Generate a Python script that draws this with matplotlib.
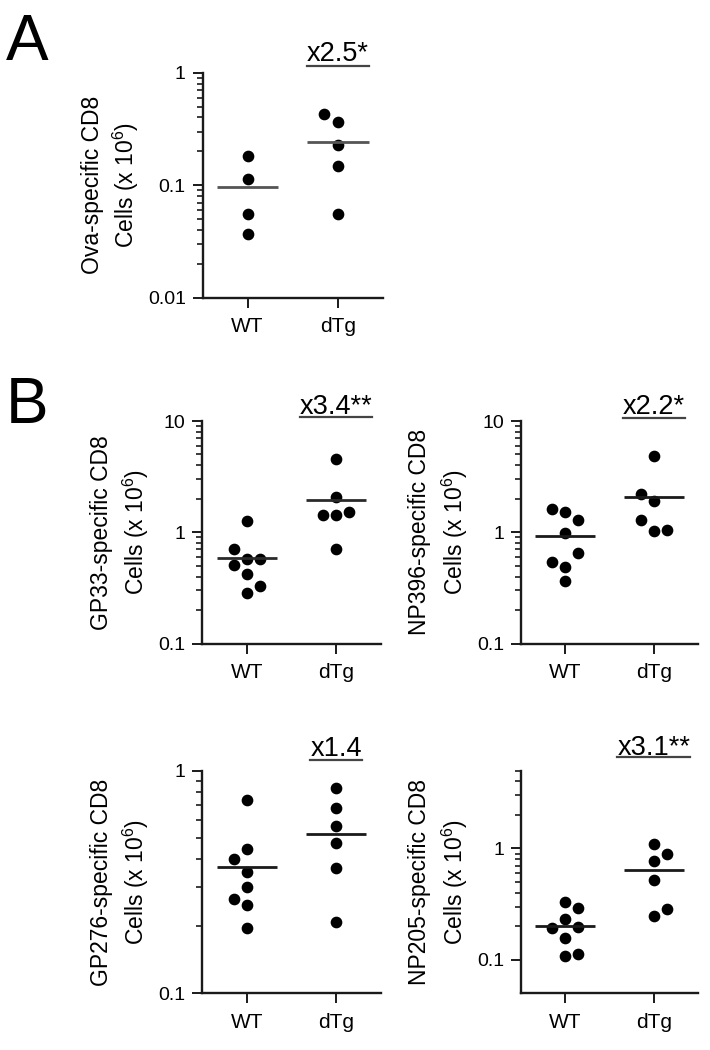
import numpy as np
import matplotlib
matplotlib.use("Agg")
import matplotlib.pyplot as plt
from matplotlib.lines import Line2D

plt.rcParams['font.family'] = ['Liberation Sans', 'DejaVu Sans']
plt.rcParams['mathtext.fontset'] = 'custom'
plt.rcParams['mathtext.rm'] = 'Liberation Sans'
plt.rcParams['mathtext.it'] = 'Liberation Sans:italic'
plt.rcParams['mathtext.default'] = 'regular'

# ---------------- data ----------------
groups = ["WT", "dTg"]

ova_wt = [0.181, 0.114, 0.056, 0.037]
ova_dtg = [0.431, 0.361, 0.226, 0.147, 0.056]

gp33_wt = [1.27, 0.70, 0.577, 0.577, 0.503, 0.418, 0.328, 0.286]
gp33_dtg = [4.57, 2.06, 1.44, 1.44, 1.52, 0.714]

np396_wt = [1.61, 1.53, 1.30, 0.98, 0.649, 0.538, 0.492, 0.362]
np396_dtg = [4.87, 2.23, 1.90, 1.28, 1.02, 1.05]

gp276_wt = [0.738, 0.443, 0.400, 0.352, 0.301, 0.264, 0.250, 0.196]
gp276_dtg = [0.833, 0.677, 0.564, 0.472, 0.364, 0.210]

np205_wt = [0.331, 0.290, 0.234, 0.194, 0.197, 0.156, 0.109, 0.113]
np205_dtg = [1.10, 0.895, 0.769, 0.522, 0.286, 0.246]

fold_labels = ["x2.5*", "x3.4**", "x2.2*", "x1.4", "x3.1**"]
ylabel_top = ["Ova-specific CD8", "GP33-specific CD8", "NP396-specific CD8",
              "GP276-specific CD8", "NP205-specific CD8"]
ylabel_bottom = "Cells (x 10$^6$)"

ylims = [(0.01, 1), (0.1, 10), (0.1, 10), (0.1, 1), (0.05, 5)]
major_ticks = [[0.01, 0.1, 1], [0.1, 1, 10], [0.1, 1, 10], [0.1, 1], [0.1, 1]]
major_labels = [["0.01", "0.1", "1"], ["0.1", "1", "10"], ["0.1", "1", "10"],
                ["0.1", "1"], ["0.1", "1"]]

# column slots of the scatter (-1 left, 0 centre, +1 right)
ova_wt_slot = [0, 0, 0, 0]
ova_dtg_slot = [-1, 0, 0, 0, 0]
gp33_wt_slot = [0, -1, 0, 1, -1, 0, 1, 0]
gp33_dtg_slot = [0, 0, -1, 0, 1, 0]
np396_wt_slot = [-1, 0, 1, 0, 1, -1, 0, 0]
np396_dtg_slot = [0, -1, 0, -1, 0, 1]
gp276_wt_slot = [0, 0, -1, 0, 0, -1, 0, 0]
gp276_dtg_slot = [0, 0, 0, 0, 0, 0]
np205_wt_slot = [0, 1, 0, -1, 1, 0, 0, 1]
np205_dtg_slot = [0, 1, 0, 0, 1, 0]

# ---------------- layout ----------------
W, H = 710, 1050
fig = plt.figure(figsize=(W / 100, H / 100), dpi=100)

# axes boxes in pixels: left, top, right, bottom
boxes = [(202.5, 72.7, 383.0, 297.7),
         (202.3, 421.0, 380.7, 643.5),
         (520.7, 421.0, 698.3, 643.5),
         (202.3, 770.7, 380.7, 993.3),
         (520.7, 770.7, 698.3, 993.3)]
label_off = [(-110, -77), (-101, -66.5), (-101, -66), (-101, -66.5), (-101, -66)]
text_base = [12, 7, 6.5, 14.7, 15.7]
uline_off = [6.7, 4.3, 3.3, 11.2, 13.4]
mean_colors = ['#555555', '#2a2a2a', '#1a1a1a', '#1a1a1a', '#1a1a1a']

panels = [
    (ova_wt, ova_dtg, ova_wt_slot, ova_dtg_slot),
    (gp33_wt, gp33_dtg, gp33_wt_slot, gp33_dtg_slot),
    (np396_wt, np396_dtg, np396_wt_slot, np396_dtg_slot),
    (gp276_wt, gp276_dtg, gp276_wt_slot, gp276_dtg_slot),
    (np205_wt, np205_dtg, np205_wt_slot, np205_dtg_slot),
]

slot_w = 0.15
half_mean = 0.34
axes_list = []
texts = []
for i, (wt, dtg, swt, sdtg) in enumerate(panels):
    l, t, r, b = boxes[i]
    ax = fig.add_axes([l / W, 1 - b / H, (r - l) / W, (b - t) / H])
    axes_list.append(ax)
    ax.set_yscale('log')
    ax.set_ylim(*ylims[i])
    ax.set_xlim(-0.5, 1.5)
    for xpos, vals, slots in [(0, wt, swt), (1, dtg, sdtg)]:
        vals = np.asarray(vals)
        xs = xpos + np.asarray(slots) * slot_w
        ax.plot(xs, vals, 'o', ms=7.4, color='black', mec='black', clip_on=False, zorder=3)
        ax.hlines(np.mean(vals), xpos - half_mean, xpos + half_mean,
                  color=mean_colors[i], lw=2.0, zorder=4)
    # ticks
    ax.set_xticks([0, 1])
    ax.set_xticklabels(groups, fontsize=15)
    ax.set_yticks(major_ticks[i])
    ax.set_yticklabels(major_labels[i], fontsize=14)
    lo = major_ticks[i][0]
    minors = []
    for dec in major_ticks[i]:
        for m in range(2, 10):
            v = dec * m
            if v <= ylims[i][1] * 1.0001 and v >= lo:
                minors.append(v)
    ax.set_yticks(minors, minor=True)
    ax.yaxis.set_minor_formatter(plt.NullFormatter())
    ax.tick_params(axis='y', which='major', length=7, width=1.4, pad=5, color='#1a1a1a')
    ax.tick_params(axis='y', which='minor', length=4, width=1.2, color='#1a1a1a')
    ax.tick_params(axis='x', which='major', length=7.5, width=1.4, pad=6.5, color='#1a1a1a')
    ax.tick_params(axis='x', which='minor', length=0)
    for s in ['top', 'right']:
        ax.spines[s].set_visible(False)
    for s in ['left', 'bottom']:
        ax.spines[s].set_linewidth(1.7)
        ax.spines[s].set_color('#1a1a1a')
    ax.patch.set_alpha(0)
    # y labels (two lines)
    wpx = r - l
    ax.text(label_off[i][0] / wpx, 0.5, ylabel_top[i], transform=ax.transAxes,
            rotation=90, ha='center', va='center', fontsize=16.5)
    ax.text(label_off[i][1] / wpx, 0.5, ylabel_bottom, transform=ax.transAxes,
            rotation=90, ha='center', va='center', fontsize=16.5)
    # fold-change annotation
    tx = ax.annotate(fold_labels[i], xy=(1, 1), xycoords=('data', 'axes fraction'),
                     xytext=(0, text_base[i] * 0.72), textcoords='offset points',
                     ha='center', va='baseline', fontsize=19.5, annotation_clip=False)
    texts.append(tx)

fig.text(6 / W, 1 - 60 / H, 'A', fontsize=46, ha='left', va='baseline')
fig.text(6 / W, 1 - 423 / H, 'B', fontsize=46, ha='left', va='baseline')

fig.canvas.draw()
renderer = fig.canvas.get_renderer()
inv = fig.transFigure.inverted()
for i, tx in enumerate(texts):
    bb = tx.get_window_extent(renderer)
    ax_top = axes_list[i].get_window_extent(renderer).y1
    y = ax_top + uline_off[i]
    (x0, y0) = inv.transform((bb.x0, y))
    (x1, _) = inv.transform((bb.x1, y))
    fig.add_artist(Line2D([x0, x1], [y0, y0], transform=fig.transFigure,
                          color='#444444', lw=1.6))

fig.savefig('out.png', dpi=100)
